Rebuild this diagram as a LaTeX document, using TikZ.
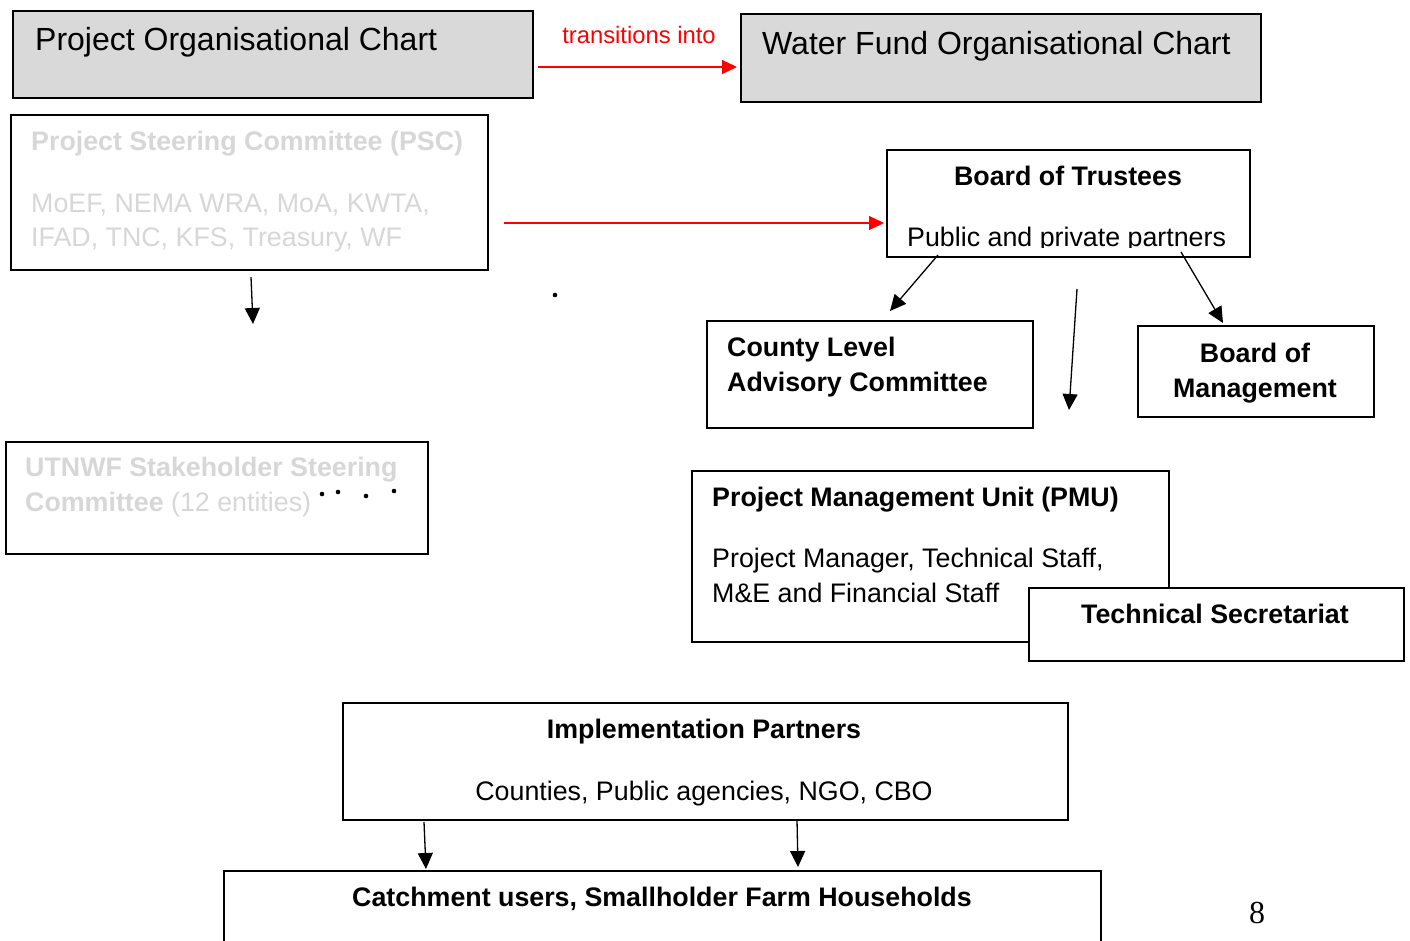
\documentclass[tikz,border=0pt]{standalone}
\usepackage{fontspec}
\setmainfont{Liberation Sans}
\newfontfamily\pagenumfont{Liberation Serif}
\usetikzlibrary{arrows.meta}
\definecolor{panelgray}{RGB}{217,217,217}
\definecolor{fadedtext}{RGB}{215,215,215}
\definecolor{linkred}{RGB}{255,0,0}

\begin{document}
\begin{tikzpicture}[x=1pt,y=-1pt,
  box/.style={draw=black, line width=1.5pt, fill=white, rectangle, inner sep=0pt, anchor=north west},
  headbox/.style={box, fill=panelgray, line width=2.2pt},
  thickbox/.style={box, line width=2.2pt},
  txt/.style={inner sep=0pt, anchor=base west, font=\fontsize{26.8}{35}\selectfont},
  txtb/.style={inner sep=0pt, anchor=base west, font=\fontsize{26.8}{35}\selectfont\bfseries},
  ctxtb/.style={txtb, anchor=base},
  ctxt/.style={txt, anchor=base},
  title/.style={inner sep=0pt, anchor=base west, font=\fontsize{32}{38}\selectfont},
  faded/.style={text=fadedtext},
  link/.style={-{Triangle[length=16pt,width=15pt]}, line width=1.3pt, black},
  redlink/.style={-{Triangle[length=15pt,width=14pt]}, line width=1.3pt, linkred},
  speck/.style={circle, fill=black, inner sep=0pt, minimum size=4.6pt}
]
\clip (0,0) rectangle (1410,940);
\fill[white] (0,0) rectangle (1410,940);

% ---- headers ----
\node[headbox, minimum width=520pt, minimum height=87pt] (poc) at (12,10) {};
\node[title] (poctext) at (35,50) {Project Organisational Chart};
\node[headbox, minimum width=520pt, minimum height=88pt] (wfoc) at (740,13) {};
\node[title] (wfoctext) at (762,54) {Water Fund Organisational Chart};

\coordinate (t1) at (538,67);
\coordinate (t2) at (737,67);
\draw[redlink] (t1) -- (t2);
\node[inner sep=0pt, anchor=base, text=linkred, font=\fontsize{23.8}{28}\selectfont] (translabel) at (639,43) {transitions into};

% ---- project side ----
\node[thickbox, minimum width=477pt, minimum height=155pt] (psc) at (10,114) {};
\node[txtb, faded] (psct) at (31,150) {Project Steering Committee (PSC)};
\node[txt, faded] (pscl1) at (31,212) {MoEF, NEMA WRA, MoA, KWTA,};
\node[txt, faded] (pscl2) at (31,246) {IFAD, TNC, KFS, Treasury, WF};

\coordinate (p1) at (251,277);
\coordinate (p2) at (253,324);
\draw[link] (p1) -- (p2);

\node[speck] (dot0) at (555,295) {};

\node[box, minimum width=422pt, minimum height=112pt] (ssc) at (5,441) {};
\node[txtb, faded] (ssct) at (25,476) {UTNWF Stakeholder Steering};
\node[txt, faded] (sscl) at (25,511) {\textbf{Committee} (12 entities)};
\node[speck] (dot1) at (322,494) {};
\node[speck] (dot2) at (338,492) {};
\node[speck] (dot3) at (366,496) {};
\node[speck] (dot4) at (394,491) {};

% ---- water fund side ----
\coordinate (r1) at (504,223);
\coordinate (r2) at (884,223);
\draw[redlink] (r1) -- (r2);

\node[box, minimum width=363pt, minimum height=107pt] (bot) at (886,149) {};
\node[ctxtb] (bott) at (1068,185) {Board of Trustees};
\begin{scope}
  \clip (886,149) rectangle (1249,247);
  \node[txt] (botl) at (907,246) {Public and private partners};
\end{scope}

\coordinate (b1) at (938,255);
\coordinate (b2) at (890,311);
\draw[link] (b1) -- (b2);
\coordinate (b3) at (1181,252);
\coordinate (b4) at (1223,323);
\draw[link] (b3) -- (b4);
\coordinate (b5) at (1077,289);
\coordinate (b6) at (1069,410);
\draw[link] (b5) -- (b6);

\node[box, minimum width=326pt, minimum height=107pt] (clac) at (706,320) {};
\node[txtb] (clac1) at (727,356) {County Level};
\node[txtb] (clac2) at (727,391) {Advisory Committee};

\node[box, minimum width=236pt, minimum height=91pt] (bom) at (1137,325) {};
\node[ctxtb] (bom1) at (1255,362) {Board of};
\node[ctxtb] (bom2) at (1255,397) {Management};

\node[box, minimum width=477pt, minimum height=171pt] (pmu) at (691,470) {};
\node[txtb] (pmut) at (712,506) {Project Management Unit (PMU)};
\node[txt] (pmul1) at (712,567) {Project Manager, Technical Staff,};
\node[txt] (pmul2) at (712,602) {M\&E and Financial Staff};

\node[box, minimum width=375pt, minimum height=73pt] (tsec) at (1028,587) {};
\node[ctxtb] (tsect) at (1215,623) {Technical Secretariat};

% ---- shared lower tiers ----
\node[box, minimum width=725pt, minimum height=117pt] (imp) at (342,702) {};
\node[ctxtb] (impt) at (704,738) {Implementation Partners};
\node[ctxt] (impl) at (704,800) {Counties, Public agencies, NGO, CBO};

\coordinate (i1) at (424,822);
\coordinate (i2) at (426,869);
\draw[link] (i1) -- (i2);
\coordinate (i3) at (797,820);
\coordinate (i4) at (798,867);
\draw[link] (i3) -- (i4);

\node[box, minimum width=877pt, minimum height=120pt] (catch) at (223,870) {};
\node[ctxtb] (catcht) at (662,906) {Catchment users, Smallholder Farm Households};

\node[inner sep=0pt, anchor=base, font=\pagenumfont\fontsize{32}{36}\selectfont] (pagenum) at (1257,923) {8};
\end{tikzpicture}
\end{document}
